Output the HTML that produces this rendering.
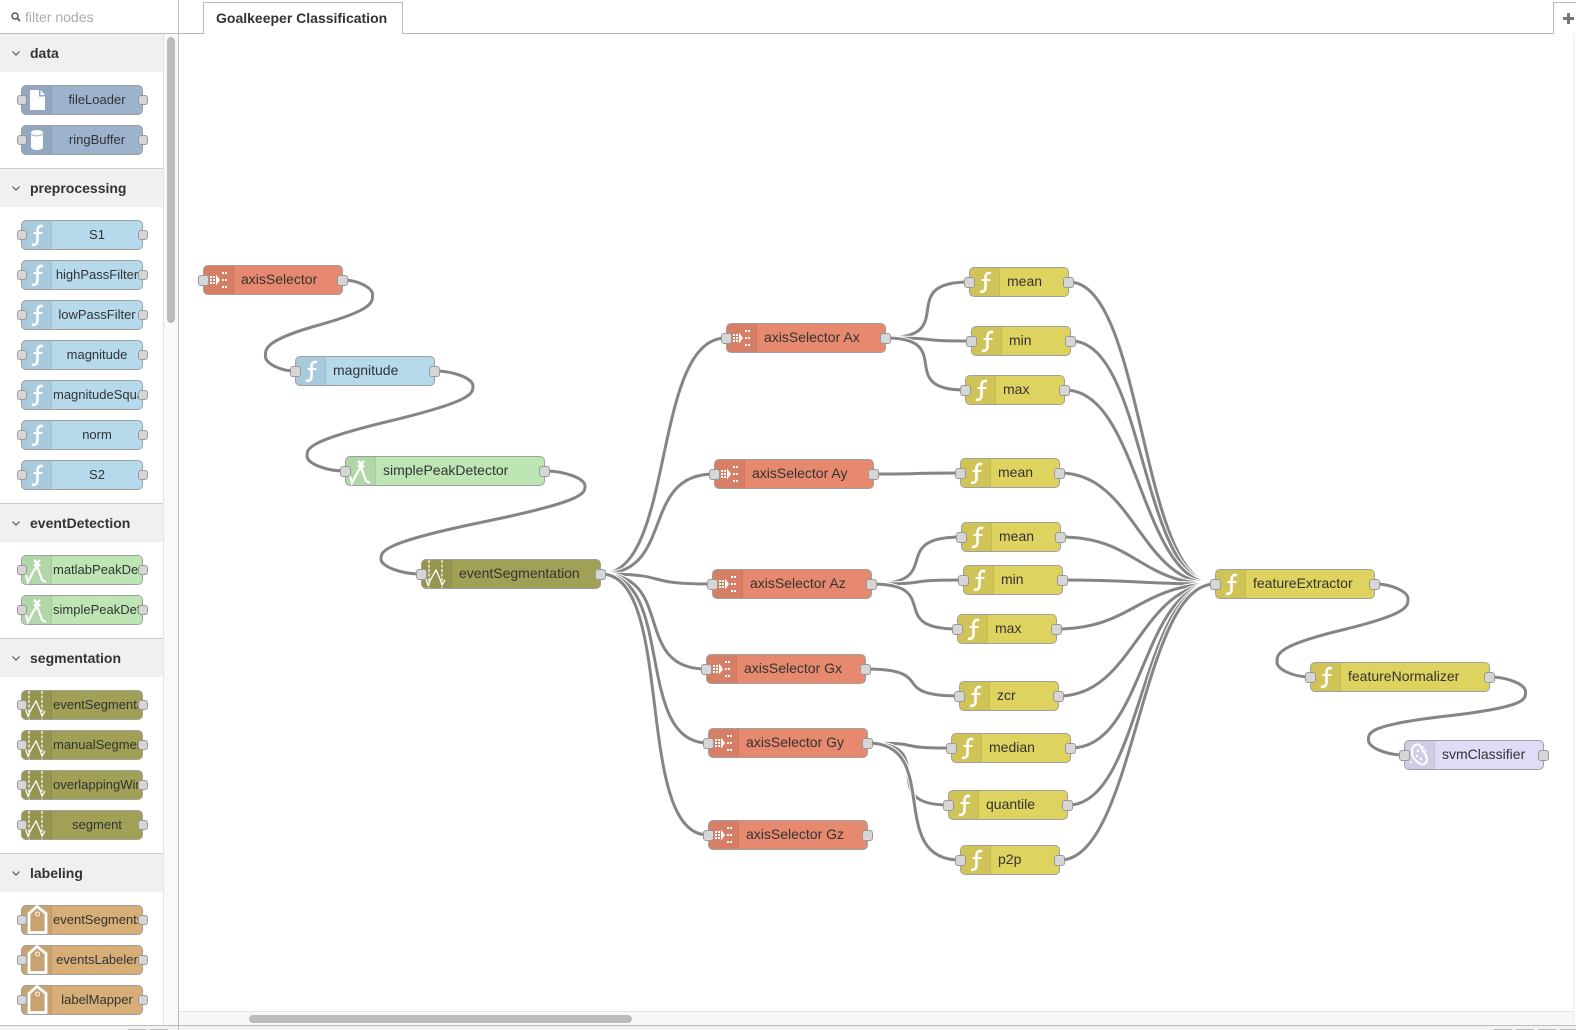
<!DOCTYPE html>
<html><head><meta charset="utf-8">
<style>
html,body{margin:0;padding:0;background:#fff}
body{position:relative;width:1576px;height:1030px;overflow:hidden;font-family:"Liberation Sans",sans-serif;color:#333}
.a{position:absolute}
.n{position:absolute;height:30px;box-sizing:border-box;border:1px solid #a0a0a0;border-radius:5px;font-size:14px}
.n i{position:absolute;left:0;top:0;bottom:0;width:29px;background:rgba(0,0,0,.065);border-right:1px solid rgba(0,0,0,.05);border-radius:4px 0 0 4px}
.n svg{position:absolute;left:-1px;top:-1px;width:30px;height:30px;overflow:visible}
.n span{position:absolute;left:37px;top:0;line-height:27px;white-space:nowrap}
.n b{position:absolute;top:9px;width:11px;height:11px;box-sizing:border-box;background:#d6d6d6;border:1px solid #999;border-radius:3px}
.n b.l{left:-6px}.n b.r{right:-6px}
.pal{left:21px;width:122px;font-size:13px}
.pal b{width:10px;height:10px}
.pal b.l{left:-5px}
.pal span{left:31px;width:88px;text-align:center;overflow:hidden;line-height:28px}
.pal span.o{text-align:left;left:31px;width:86px}
.c-blue{background:#9db3cd}.c-sky{background:#b6d9ec}.c-red{background:#e6896e}.c-ol{background:#a0a056}
.c-gr{background:#bee6b5}.c-ye{background:#dfd35f}.c-li{background:#e0dbf6}.c-tan{background:#d7ae78}
.h{position:absolute;left:0;width:163px;height:38px;background:#f0f0f0;font-weight:bold;font-size:14px;line-height:38px;text-indent:30px;color:#333}
.ln{position:absolute;left:0;width:163px;height:1px;background:#ccc}
.h svg{position:absolute;left:11px;top:16px;width:10px;height:7px}
path.o{fill:none;stroke:#fff;stroke-width:5}
path.w{fill:none;stroke:#858585;stroke-width:3}
</style></head>
<body>
<svg width="0" height="0" style="position:absolute">
<defs>
<g id="f"><path d="M22 6.500C18.500 5 16.500 7 16.500 11V20C16.500 24 14 25.500 11 24.500" fill="none" stroke="#fff" stroke-width="2.600"/><path d="M12.500 13H21.500" stroke="#fff" stroke-width="2"/></g>
<g id="sel" fill="#fff"><rect x="7" y="11" width="2" height="2"/><rect x="10" y="11" width="2" height="2"/><rect x="7" y="14" width="2" height="2"/><rect x="10" y="14" width="2" height="2"/><rect x="7" y="17" width="2" height="2"/><rect x="10" y="17" width="2" height="2"/><path d="M13 9.500L17 15L13 20.500Z"/><rect x="19" y="7" width="2" height="2"/><rect x="22" y="7" width="2" height="2"/><rect x="19" y="14" width="2" height="2"/><rect x="22" y="14" width="2" height="2"/><rect x="19" y="21" width="2" height="2"/><rect x="22" y="21" width="2" height="2"/></g>
<g id="seg" fill="none" stroke="#fff"><path d="M8 1V29M21 1V29" stroke-dasharray="3 1.500" stroke-width="1.200"/><path d="M4 17L7 26L11 18L15 11L19 20L21 26L24 21" stroke-width="1.300"/></g>
<g id="pk" fill="none" stroke="#fff" stroke-width="2.200"><path d="M5 20L7 27L12 17L16 11L21 25L25 27"/><path d="M13 5L19 11M19 5L13 11" stroke-width="2.400"/></g>
<g id="tag" fill="none" stroke="#fff"><path d="M16 1.500L25 8.500V27.500H8V8.500Z" stroke-width="2.800"/><circle cx="16.500" cy="9" r="2"/></g>
<g id="file" fill="#fff"><path d="M9 5H18V11.500H24V25H9Z"/><path d="M19.500 5L24 10H19.500Z"/></g>
<g id="db"><path d="M10 8C10 4 22 4 22 8V22C22 26 10 26 10 22Z" fill="#fff"/><path d="M10 9C12 11.500 20 11.500 22 9" fill="none" stroke="#8fa6c0"/></g>
<g id="br" fill="none" stroke="#fff" stroke-width="2"><path d="M10 6C13 3 17 5 18 9C19 12 23 15 23 19C23 24 18 26 15 23C12 21 8 18 8 13C8 10 8 8 10 6Z"/><g fill="#fff" stroke="none"><circle cx="14" cy="11" r="1.200"/><circle cx="13" cy="16" r="1.200"/><circle cx="17" cy="19" r="1.200"/><circle cx="19.500" cy="7" r="1"/><circle cx="21.500" cy="10.500" r="1"/><circle cx="7" cy="22" r="1"/></g></g>
</defs>
</svg>

<!-- workspace chrome -->
<div class="a" style="left:0;top:33px;width:1576px;height:1px;background:#bbb"></div>
<div class="a" style="left:178px;top:0;width:1px;height:1030px;background:#bbb"></div>
<div class="a" style="left:203px;top:2px;width:200px;height:32px;box-sizing:border-box;border:1px solid #bbb;border-bottom:0;background:#fff;font-weight:bold;font-size:14px;line-height:31px;padding-left:12px;color:#333;white-space:nowrap">Goalkeeper Classification</div>
<div class="a" style="left:1553px;top:2px;width:30px;height:32px;box-sizing:border-box;border:1px solid #bbb;border-bottom:0;background:#fff"></div>
<div class="a" style="left:1563px;top:17px;width:11px;height:3px;background:#777"></div>
<div class="a" style="left:1567px;top:13px;width:3px;height:11px;background:#777"></div>
<div class="a" style="left:1573px;top:34px;width:3px;height:991px;background:#fafafa;border-left:1px solid #eee;box-sizing:border-box"></div>
<div class="a" style="left:179px;top:1011px;width:1394px;height:14px;background:#f8f8f8;border-top:1px solid #e3e3e3;box-sizing:border-box"></div>
<div class="a" style="left:249px;top:1015px;width:383px;height:8px;border-radius:4px;background:#bbb"></div>
<div class="a" style="left:0;top:1025px;width:1576px;height:5px;background:#f3f3f3;border-top:1px solid #bbb;box-sizing:border-box"></div>
<div class="a" style="left:128px;top:1029px;width:18px;height:1px;background:#bbb"></div>
<div class="a" style="left:150px;top:1029px;width:18px;height:1px;background:#bbb"></div>
<div class="a" style="left:1494px;top:1029px;width:18px;height:1px;background:#bbb"></div>
<div class="a" style="left:1516px;top:1029px;width:18px;height:1px;background:#bbb"></div>
<div class="a" style="left:1538px;top:1029px;width:18px;height:1px;background:#bbb"></div>
<div class="a" style="left:1560px;top:1029px;width:16px;height:1px;background:#bbb"></div>
<div class="a" style="left:178px;top:1025px;width:1px;height:5px;background:#bbb"></div>

<!-- sidebar -->
<svg class="a" style="left:10px;top:11px" width="12" height="12"><circle cx="5" cy="5" r="3" fill="none" stroke="#555" stroke-width="1.500"/><path d="M7.500 7.500L10 10" stroke="#555" stroke-width="1.800"/></svg>
<div class="a" style="left:25px;top:9px;font-size:14px;line-height:17px;color:#aaa">filter nodes</div>
<div class="a" style="left:163px;top:34px;width:15px;height:991px;background:#f9f9f9;border-left:1px solid #e3e3e3;box-sizing:border-box"></div>
<div class="a" style="left:167px;top:37px;width:8px;height:286px;border-radius:4px;background:#bbb"></div>

<div class="h" style="top:34px"><svg viewBox="0 0 10 7"><path d="M1.500 1.500L5 5L8.500 1.500" fill="none" stroke="#555" stroke-width="1.200"/></svg>data</div>
<div class="ln" style="top:168px"></div>
<div class="h" style="top:169px"><svg viewBox="0 0 10 7"><path d="M1.500 1.500L5 5L8.500 1.500" fill="none" stroke="#555" stroke-width="1.200"/></svg>preprocessing</div>
<div class="ln" style="top:503px"></div>
<div class="h" style="top:504px"><svg viewBox="0 0 10 7"><path d="M1.500 1.500L5 5L8.500 1.500" fill="none" stroke="#555" stroke-width="1.200"/></svg>eventDetection</div>
<div class="ln" style="top:638px"></div>
<div class="h" style="top:639px"><svg viewBox="0 0 10 7"><path d="M1.500 1.500L5 5L8.500 1.500" fill="none" stroke="#555" stroke-width="1.200"/></svg>segmentation</div>
<div class="ln" style="top:853px"></div>
<div class="h" style="top:854px"><svg viewBox="0 0 10 7"><path d="M1.500 1.500L5 5L8.500 1.500" fill="none" stroke="#555" stroke-width="1.200"/></svg>labeling</div>

<div class="n pal c-blue" style="top:85px"><i></i><svg><use href="#file"/></svg><span>fileLoader</span><b class="l"></b><b class="r"></b></div>
<div class="n pal c-blue" style="top:125px"><i></i><svg><use href="#db"/></svg><span>ringBuffer</span><b class="l"></b><b class="r"></b></div>
<div class="n pal c-sky" style="top:220px"><i></i><svg><use href="#f"/></svg><span>S1</span><b class="l"></b><b class="r"></b></div>
<div class="n pal c-sky" style="top:260px"><i></i><svg><use href="#f"/></svg><span>highPassFilter</span><b class="l"></b><b class="r"></b></div>
<div class="n pal c-sky" style="top:300px"><i></i><svg><use href="#f"/></svg><span>lowPassFilter</span><b class="l"></b><b class="r"></b></div>
<div class="n pal c-sky" style="top:340px"><i></i><svg><use href="#f"/></svg><span>magnitude</span><b class="l"></b><b class="r"></b></div>
<div class="n pal c-sky" style="top:380px"><i></i><svg><use href="#f"/></svg><span class="o">magnitudeSquared</span><b class="l"></b><b class="r"></b></div>
<div class="n pal c-sky" style="top:420px"><i></i><svg><use href="#f"/></svg><span>norm</span><b class="l"></b><b class="r"></b></div>
<div class="n pal c-sky" style="top:460px"><i></i><svg><use href="#f"/></svg><span>S2</span><b class="l"></b><b class="r"></b></div>
<div class="n pal c-gr" style="top:555px"><i></i><svg><use href="#pk"/></svg><span class="o">matlabPeakDetector</span><b class="l"></b><b class="r"></b></div>
<div class="n pal c-gr" style="top:595px"><i></i><svg><use href="#pk"/></svg><span class="o">simplePeakDetector</span><b class="l"></b><b class="r"></b></div>
<div class="n pal c-ol" style="top:690px"><i></i><svg><use href="#seg"/></svg><span class="o">eventSegmentation</span><b class="l"></b><b class="r"></b></div>
<div class="n pal c-ol" style="top:730px"><i></i><svg><use href="#seg"/></svg><span class="o">manualSegmenter</span><b class="l"></b><b class="r"></b></div>
<div class="n pal c-ol" style="top:770px"><i></i><svg><use href="#seg"/></svg><span class="o">overlappingWindow</span><b class="l"></b><b class="r"></b></div>
<div class="n pal c-ol" style="top:810px"><i></i><svg><use href="#seg"/></svg><span>segment</span><b class="l"></b><b class="r"></b></div>
<div class="n pal c-tan" style="top:905px"><i></i><svg><use href="#tag"/></svg><span class="o">eventSegmentsLabeler</span><b class="l"></b><b class="r"></b></div>
<div class="n pal c-tan" style="top:945px"><i></i><svg><use href="#tag"/></svg><span>eventsLabeler</span><b class="l"></b><b class="r"></b></div>
<div class="n pal c-tan" style="top:985px"><i></i><svg><use href="#tag"/></svg><span>labelMapper</span><b class="l"></b><b class="r"></b></div>

<!-- wires -->
<svg class="a" style="left:0;top:0" width="1576" height="1030">
<path class="w" d="M343 280C357.800 280 372.600 287.500 372.600 295S372.600 310 319 325S265.400 348.500 265.400 356S280.200 371 295 371"/>
<path class="w" d="M435 371C454 371 473 378.500 473 386S473 401 390 421S307 448.500 307 456S326 471 345 471"/>
<path class="w" d="M545 471C565 471 585 478.500 585 486S585 501 483 522S381 551.500 381 559S401 574 421 574"/>
<path class="w" d="M1375 584C1391.500 584 1408 591.500 1408 599S1408 614 1342 630S1277 654.500 1277 662S1293.500 677 1310 677"/>
<path class="w" d="M1490 677C1507.800 677 1525.600 684.500 1525.600 692S1525.600 707 1447 716S1368.400 732.500 1368.400 740S1386.200 755 1404 755"/>

<path class="o" d="M601 574C676 574 651 338 726 338"/><path class="w" d="M601 574C676 574 651 338 726 338"/>
<path class="o" d="M601 574C676 574 639 474 714 474"/><path class="w" d="M601 574C676 574 639 474 714 474"/>
<path class="o" d="M601 574C676 574 637 584 712 584"/><path class="w" d="M601 574C676 574 637 584 712 584"/>
<path class="o" d="M601 574C676 574 631 669 706 669"/><path class="w" d="M601 574C676 574 631 669 706 669"/>
<path class="o" d="M601 574C676 574 633 743 708 743"/><path class="w" d="M601 574C676 574 633 743 708 743"/>
<path class="o" d="M601 574C676 574 633 835 708 835"/><path class="w" d="M601 574C676 574 633 835 708 835"/>

<path class="o" d="M886 338C961 338 894 282 969 282"/><path class="w" d="M886 338C961 338 894 282 969 282"/>
<path class="o" d="M886 338C949.750 338 907.250 341 971 341"/><path class="w" d="M886 338C949.750 338 907.250 341 971 341"/>
<path class="o" d="M886 338C957 338 894 390 965 390"/><path class="w" d="M886 338C957 338 894 390 965 390"/>
<path class="o" d="M874 474C938.500 474 895.500 473 960 473"/><path class="w" d="M874 474C938.500 474 895.500 473 960 473"/>
<path class="o" d="M872 584C947 584 886 537 961 537"/><path class="w" d="M872 584C947 584 886 537 961 537"/>
<path class="o" d="M872 584C940 584 895 580 963 580"/><path class="w" d="M872 584C940 584 895 580 963 580"/>
<path class="o" d="M872 584C944 584 885 629 957 629"/><path class="w" d="M872 584C944 584 885 629 957 629"/>
<path class="o" d="M866 669C938.600 669 886.400 696 959 696"/><path class="w" d="M866 669C938.600 669 886.400 696 959 696"/>
<path class="o" d="M868 743C930 743 889 748 951 748"/><path class="w" d="M868 743C930 743 889 748 951 748"/>
<path class="o" d="M868 743C943 743 873 805 948 805"/><path class="w" d="M868 743C943 743 873 805 948 805"/>
<path class="o" d="M868 743C943 743 885 860 960 860"/><path class="w" d="M868 743C943 743 885 860 960 860"/>

<path class="o" d="M1069 282C1144 282 1140 584 1215 584"/><path class="w" d="M1069 282C1144 282 1140 584 1215 584"/>
<path class="o" d="M1071 341C1146 341 1140 584 1215 584"/><path class="w" d="M1071 341C1146 341 1140 584 1215 584"/>
<path class="o" d="M1065 390C1140 390 1140 584 1215 584"/><path class="w" d="M1065 390C1140 390 1140 584 1215 584"/>
<path class="o" d="M1060 473C1135 473 1140 584 1215 584"/><path class="w" d="M1060 473C1135 473 1140 584 1215 584"/>
<path class="o" d="M1061 537C1136 537 1140 584 1215 584"/><path class="w" d="M1061 537C1136 537 1140 584 1215 584"/>
<path class="o" d="M1063 580C1138 580 1140 584 1215 584"/><path class="w" d="M1063 580C1138 580 1140 584 1215 584"/>
<path class="o" d="M1057 629C1132 629 1140 584 1215 584"/><path class="w" d="M1057 629C1132 629 1140 584 1215 584"/>
<path class="o" d="M1059 696C1134 696 1140 584 1215 584"/><path class="w" d="M1059 696C1134 696 1140 584 1215 584"/>
<path class="o" d="M1071 748C1146 748 1140 584 1215 584"/><path class="w" d="M1071 748C1146 748 1140 584 1215 584"/>
<path class="o" d="M1068 805C1143 805 1140 584 1215 584"/><path class="w" d="M1068 805C1143 805 1140 584 1215 584"/>
<path class="o" d="M1060 860C1135 860 1140 584 1215 584"/><path class="w" d="M1060 860C1135 860 1140 584 1215 584"/>
</svg>

<!-- flow nodes -->
<div class="n c-red" style="left:203px;top:265px;width:140px"><i></i><svg><use href="#sel"/></svg><span>axisSelector</span><b class="l"></b><b class="r"></b></div>
<div class="n c-sky" style="left:295px;top:356px;width:140px"><i></i><svg><use href="#f"/></svg><span>magnitude</span><b class="l"></b><b class="r"></b></div>
<div class="n c-gr" style="left:345px;top:456px;width:200px"><i></i><svg><use href="#pk"/></svg><span>simplePeakDetector</span><b class="l"></b><b class="r"></b></div>
<div class="n c-ol" style="left:421px;top:559px;width:180px"><i></i><svg><use href="#seg"/></svg><span>eventSegmentation</span><b class="l"></b><b class="r"></b></div>

<div class="n c-red" style="left:726px;top:323px;width:160px"><i></i><svg><use href="#sel"/></svg><span>axisSelector Ax</span><b class="l"></b><b class="r"></b></div>
<div class="n c-red" style="left:714px;top:459px;width:160px"><i></i><svg><use href="#sel"/></svg><span>axisSelector Ay</span><b class="l"></b><b class="r"></b></div>
<div class="n c-red" style="left:712px;top:569px;width:160px"><i></i><svg><use href="#sel"/></svg><span>axisSelector Az</span><b class="l"></b><b class="r"></b></div>
<div class="n c-red" style="left:706px;top:654px;width:160px"><i></i><svg><use href="#sel"/></svg><span>axisSelector Gx</span><b class="l"></b><b class="r"></b></div>
<div class="n c-red" style="left:708px;top:728px;width:160px"><i></i><svg><use href="#sel"/></svg><span>axisSelector Gy</span><b class="l"></b><b class="r"></b></div>
<div class="n c-red" style="left:708px;top:820px;width:160px"><i></i><svg><use href="#sel"/></svg><span>axisSelector Gz</span><b class="l"></b><b class="r"></b></div>

<div class="n c-ye" style="left:969px;top:267px;width:100px"><i></i><svg><use href="#f"/></svg><span>mean</span><b class="l"></b><b class="r"></b></div>
<div class="n c-ye" style="left:971px;top:326px;width:100px"><i></i><svg><use href="#f"/></svg><span>min</span><b class="l"></b><b class="r"></b></div>
<div class="n c-ye" style="left:965px;top:375px;width:100px"><i></i><svg><use href="#f"/></svg><span>max</span><b class="l"></b><b class="r"></b></div>
<div class="n c-ye" style="left:960px;top:458px;width:100px"><i></i><svg><use href="#f"/></svg><span>mean</span><b class="l"></b><b class="r"></b></div>
<div class="n c-ye" style="left:961px;top:522px;width:100px"><i></i><svg><use href="#f"/></svg><span>mean</span><b class="l"></b><b class="r"></b></div>
<div class="n c-ye" style="left:963px;top:565px;width:100px"><i></i><svg><use href="#f"/></svg><span>min</span><b class="l"></b><b class="r"></b></div>
<div class="n c-ye" style="left:957px;top:614px;width:100px"><i></i><svg><use href="#f"/></svg><span>max</span><b class="l"></b><b class="r"></b></div>
<div class="n c-ye" style="left:959px;top:681px;width:100px"><i></i><svg><use href="#f"/></svg><span>zcr</span><b class="l"></b><b class="r"></b></div>
<div class="n c-ye" style="left:951px;top:733px;width:120px"><i></i><svg><use href="#f"/></svg><span>median</span><b class="l"></b><b class="r"></b></div>
<div class="n c-ye" style="left:948px;top:790px;width:120px"><i></i><svg><use href="#f"/></svg><span>quantile</span><b class="l"></b><b class="r"></b></div>
<div class="n c-ye" style="left:960px;top:845px;width:100px"><i></i><svg><use href="#f"/></svg><span>p2p</span><b class="l"></b><b class="r"></b></div>

<div class="n c-ye" style="left:1215px;top:569px;width:160px"><i></i><svg><use href="#f"/></svg><span>featureExtractor</span><b class="l"></b><b class="r"></b></div>
<div class="n c-ye" style="left:1310px;top:662px;width:180px"><i></i><svg><use href="#f"/></svg><span>featureNormalizer</span><b class="l"></b><b class="r"></b></div>
<div class="n c-li" style="left:1404px;top:740px;width:140px"><i></i><svg><use href="#br"/></svg><span>svmClassifier</span><b class="l"></b><b class="r"></b></div>
</body></html>
